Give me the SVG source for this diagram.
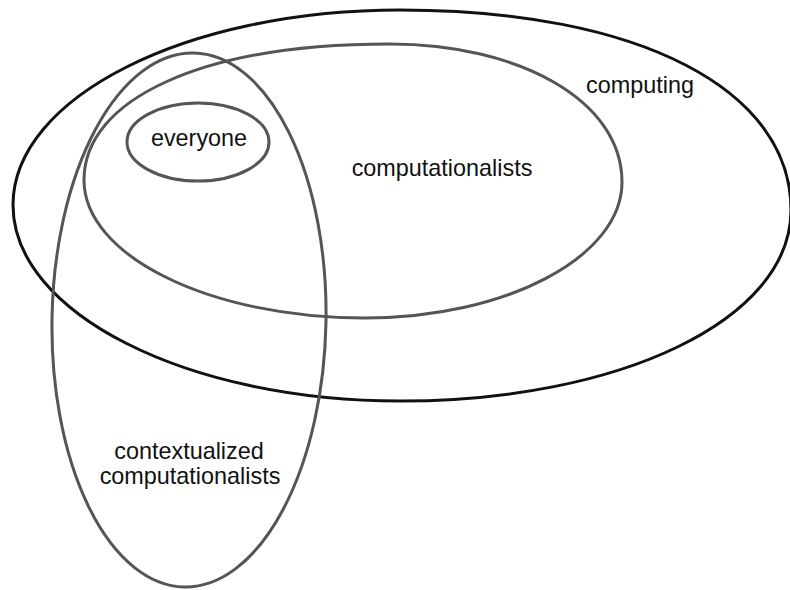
<svg xmlns="http://www.w3.org/2000/svg" width="790" height="590" viewBox="0 0 790 590">
  <style>
    .set { fill: none; stroke: #555555; stroke-width: 3; }
    .outer { fill: none; stroke: #111111; stroke-width: 3; }
    .label { font-family: "Liberation Sans", Arial, sans-serif; font-size: 23.4px; fill: #111111; text-anchor: middle; }
  </style>
  <rect width="790" height="590" fill="#ffffff"/>

  <!-- outermost set: computing -->
  <g id="computing">
    <path class="outer" d="M 13,205 C 13,97 187,10 400,10 C 640,10 791,90 791,210 C 791,320 620,401 400,401 C 187,401 13,313 13,205 Z"/>
    <text class="label" x="640" y="93">computing</text>
  </g>

  <!-- computationalists, inside computing -->
  <g id="computationalists">
    <path class="set" d="M 84,180 C 84,100 200,44 390,44 C 518,44 622,100 622,182 C 622,257 506,318 365,318 C 210,318 84,256 84,180 Z"/>
    <text class="label" x="442" y="176">computationalists</text>
  </g>

  <!-- everyone, inside computationalists -->
  <g id="everyone">
    <ellipse class="set" cx="198" cy="142" rx="71" ry="39"/>
    <text class="label" x="199" y="146">everyone</text>
  </g>

  <!-- contextualized computationalists, tall set crossing the others -->
  <g id="contextualized">
    <ellipse class="set" cx="189" cy="320" rx="137" ry="267" transform="rotate(1 189 320)"/>
    <text class="label" x="189" y="459">contextualized</text>
    <text class="label" x="190" y="484">computationalists</text>
  </g>
</svg>
